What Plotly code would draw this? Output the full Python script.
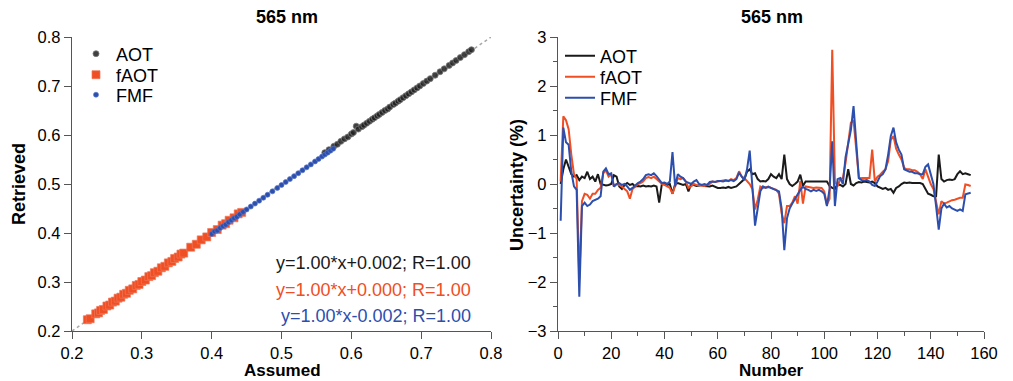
import plotly.graph_objects as go

# ---------------- Left panel data (Assumed vs Retrieved) ----------------
aot_assumed = [0.562, 0.568, 0.575, 0.58, 0.585, 0.59, 0.595, 0.60, 0.603, 0.607,
               0.61, 0.615, 0.618, 0.622, 0.626, 0.63, 0.633, 0.637, 0.64, 0.644,
               0.648, 0.652, 0.655, 0.66, 0.663, 0.667, 0.67, 0.674, 0.678, 0.682,
               0.686, 0.69, 0.694, 0.698, 0.703, 0.708, 0.713, 0.72, 0.727, 0.733,
               0.74, 0.745, 0.75, 0.756, 0.762, 0.768, 0.772]
aot_retrieved = [0.564, 0.570, 0.577, 0.581, 0.587, 0.592, 0.596, 0.602, 0.605, 0.618,
                 0.612, 0.617, 0.620, 0.624, 0.628, 0.632, 0.635, 0.639, 0.642, 0.646,
                 0.650, 0.653, 0.657, 0.662, 0.665, 0.669, 0.672, 0.676, 0.680, 0.684,
                 0.688, 0.692, 0.696, 0.700, 0.705, 0.710, 0.715, 0.722, 0.729, 0.735,
                 0.742, 0.747, 0.752, 0.758, 0.764, 0.770, 0.774]

faot_assumed = [0.222, 0.226, 0.234, 0.238, 0.241, 0.245, 0.25, 0.254, 0.258, 0.262,
                0.266, 0.27, 0.274, 0.278, 0.282, 0.287, 0.292, 0.296, 0.30, 0.305,
                0.31, 0.314, 0.318, 0.323, 0.328, 0.333, 0.338, 0.343, 0.347, 0.352,
                0.356, 0.36, 0.37, 0.378, 0.385, 0.393, 0.40, 0.408, 0.415, 0.42,
                0.425, 0.432, 0.438, 0.443]
faot_retrieved = [0.223, 0.225, 0.235, 0.237, 0.242, 0.244, 0.251, 0.253, 0.259, 0.261,
                  0.267, 0.269, 0.275, 0.277, 0.283, 0.286, 0.293, 0.295, 0.301, 0.304,
                  0.311, 0.313, 0.319, 0.322, 0.329, 0.332, 0.339, 0.342, 0.348, 0.351,
                  0.357, 0.359, 0.371, 0.377, 0.386, 0.392, 0.401, 0.407, 0.416, 0.419,
                  0.426, 0.431, 0.439, 0.442]

fmf_assumed = [0.40, 0.404, 0.408, 0.412, 0.416, 0.42, 0.424, 0.428, 0.432, 0.436,
               0.44, 0.445, 0.45, 0.456, 0.462, 0.468, 0.474, 0.48, 0.487, 0.494,
               0.50, 0.506, 0.512, 0.518, 0.524, 0.53, 0.536, 0.542, 0.548, 0.553,
               0.558, 0.562, 0.566, 0.57, 0.574]
fmf_retrieved = [0.398, 0.403, 0.405, 0.410, 0.414, 0.417, 0.422, 0.426, 0.430, 0.433,
                 0.438, 0.443, 0.448, 0.454, 0.460, 0.466, 0.472, 0.478, 0.485, 0.492,
                 0.498, 0.504, 0.510, 0.516, 0.522, 0.528, 0.534, 0.540, 0.546, 0.551,
                 0.556, 0.560, 0.564, 0.568, 0.572]

one_to_one = [0.2, 0.8]

fit_labels = ["y=1.00*x+0.002; R=1.00",
              "y=1.00*x+0.000; R=1.00",
              "y=1.00*x-0.002; R=1.00"]

# ---------------- Right panel data (Uncertainty vs Number) ----------------
number = list(range(1, 156))

unc_aot = [0.0, 0.3, 0.5, 0.35, 0.2, 0.15, 0.18, 0.08, 0.15, 0.12,
           0.25, 0.1, 0.15, 0.05, 0.2, 0.0, -0.02, -0.03, -0.02, 0.0,
           0.18, 0.15, -0.05, -0.1, -0.02, 0.02, -0.02, 0.0, -0.05, -0.04,
           -0.05, -0.03, -0.05, -0.04, -0.05, -0.03, -0.05, -0.38, 0.0, 0.0,
           -0.02, 0.0, -0.2, 0.0, 0.02, 0.0, -0.02, 0.0, -0.15, 0.0,
           -0.02, -0.04, -0.03, -0.02, -0.04, -0.05, -0.05, -0.03, -0.06, -0.08,
           -0.08, -0.07, -0.08, -0.06, -0.08, -0.07, -0.05, 0.0, 0.05, 0.1,
           0.25, 0.3, 0.2, 0.22, 0.1, 0.05, 0.06, 0.05, 0.1, 0.2,
           0.15, 0.12, 0.2, 0.1, 0.6, 0.1, 0.0, -0.04, 0.0, 0.05,
           0.19, -0.04, 0.05, 0.05, 0.06, 0.05, 0.06, 0.05, 0.05, 0.06,
           0.05, -0.04, -0.08, -0.1, 0.0, -0.02, -0.05, 0.0, 0.3, 0.0,
           -0.03, 0.02, 0.04, 0.03, 0.05, 0.04, 0.03, 0.05, 0.02, -0.05,
           -0.08, -0.1, -0.08, -0.12, -0.1, -0.18, -0.08, -0.05, 0.0, 0.03,
           0.02, 0.03, 0.02, 0.02, 0.02, 0.02, 0.0, -0.1, -0.2, -0.22,
           -0.25, -0.25, 0.6, 0.1, 0.05, 0.08, 0.09, 0.08, 0.1, 0.2,
           0.26, 0.2, 0.22, 0.2, 0.18]

unc_faot = [0.05, 1.38, 1.3, 1.12, 0.6, 0.2, 0.1, -1.95, -0.35, -0.2,
            -0.22, -0.3, -0.2, -0.2, -0.12, -0.08, 0.22, 0.28, 0.15, 0.2,
            -0.05, 0.0, -0.02, -0.05, -0.1, -0.15, -0.3, -0.1, -0.05, 0.0,
            0.02, 0.05, 0.12, 0.14, 0.12, 0.15, 0.1, 0.05, 0.0, -0.02,
            -0.05, -0.08, -0.2, -0.05, 0.12, 0.1, 0.12, 0.05, -0.08, -0.05,
            0.0, -0.02, -0.03, -0.04, -0.04, -0.02, 0.0, 0.05, 0.04, 0.05,
            0.06, 0.07, 0.08, 0.06, 0.1, 0.08, 0.12, 0.26, 0.15, 0.12,
            0.05, 0.0, -0.1, -0.52, -0.32, -0.05, -0.08, -0.06, -0.05, -0.08,
            -0.1, -0.12, -0.2, -0.6, -0.8, -0.45, -0.45, -0.38, -0.25, -0.4,
            0.06, -0.4, -0.05, -0.06, -0.08, -0.08, -0.07, -0.08, -0.08, -0.15,
            -0.42, -0.3, 2.74, 0.05, -0.05, 0.1, 0.12, 0.43, 0.9, 1.25,
            1.3, 0.77, 0.13, 0.12, 0.12, 0.11, 0.12, 0.7, 0.05, 0.15,
            0.19, 0.25, 0.3, 0.47, 0.9, 0.98, 0.72, 0.6, 0.5, 0.33,
            0.3, 0.3, 0.28, 0.28, 0.25, 0.2, 0.1, 0.3, 0.15, 0.0,
            -0.1, -0.38, -0.62, -0.35, -0.4, -0.38, -0.35, -0.33, -0.32, -0.3,
            -0.28, -0.28, -0.01, -0.02, -0.04]

unc_fmf = [-0.75, 1.15, 0.85, 0.8, 0.25, -0.05, -0.12, -2.3, -0.45, -0.38,
           -0.45, -0.42, -0.35, -0.32, -0.3, -0.25, 0.25, 0.32, 0.2, 0.22,
           -0.05, 0.0, 0.02, -0.02, 0.0, -0.05, -0.12, -0.08, -0.02, 0.02,
           0.05, 0.1, 0.18, 0.2, 0.18, 0.22, 0.16, 0.1, 0.02, 0.03,
           0.0, 0.05, 0.65, -0.05, 0.2, 0.15, 0.12, 0.05, 0.02, 0.0,
           0.05, 0.08, 0.0, -0.02, 0.0, -0.02, 0.04, 0.05, 0.04, 0.06,
           0.06, 0.05, 0.07, 0.06, 0.08, 0.06, 0.1, 0.23, 0.15, 0.08,
           0.3, 0.68, -0.05, -0.85, -0.5, -0.15, -0.05, -0.08, -0.06, -0.08,
           -0.1, -0.12, -0.15, -0.5, -1.35, -0.7, -0.5, -0.4, -0.3, -0.2,
           -0.12, -0.06, -0.1, -0.12, -0.15, -0.12, -0.14, -0.12, -0.15, -0.2,
           -0.45, -0.1, 0.87, -0.45, 0.1, 0.12, 0.0, 0.55, 0.8, 1.1,
           1.59, 0.9, 0.12, 0.08, 0.07, 0.08, 0.05, -0.02, -0.04, 0.05,
           0.16, 0.2, 0.3, 0.6, 0.98, 1.15, 0.85, 0.7, 0.6, 0.3,
           0.27, 0.25, 0.25, 0.22, 0.22, 0.2, 0.2, 0.35, 0.4, 0.2,
           0.0, -0.45, -0.93, -0.5, -0.4, -0.48, -0.45, -0.5, -0.52, -0.55,
           -0.52, -0.55, -0.21, -0.2, -0.18]

# ---------------- Styling ----------------
OFF = 8                      # page body margin of the browser
W, H = 1013 - OFF, 381 - OFF
BLACK = "#1a1a1a"
ORANGE = "#F04E23"
BLUE = "#2C4FAE"
AXIS = "#555555"
FONT = "Liberation Sans, Arial, Helvetica, sans-serif"

def px_x(p):
    return (p - OFF) / W

def px_y(p):
    return 1 - (p - OFF) / H

fig = go.Figure()

# Left panel
fig.add_trace(go.Scatter(x=one_to_one, y=one_to_one, mode="lines",
                         line=dict(color="#a8a8a8", width=1.5, dash="dot"),
                         showlegend=False, xaxis="x", yaxis="y", hoverinfo="skip"))
left_specs = [(aot_assumed, aot_retrieved, "AOT", "legend",
               dict(symbol="circle", size=6, color="rgba(30,30,30,0.85)",
                    line=dict(color="rgba(120,120,120,0.8)", width=1))),
              (faot_assumed, faot_retrieved, "fAOT", "legend3",
               dict(symbol="square", size=8, color=ORANGE,
                    line=dict(color="rgba(240,120,90,0.7)", width=1))),
              (fmf_assumed, fmf_retrieved, "FMF", "legend4",
               dict(symbol="circle", size=5, color=BLUE,
                    line=dict(color="rgba(90,120,200,0.7)", width=1)))]
for xs, ys, name, leg, mk in left_specs:
    fig.add_trace(go.Scatter(x=xs, y=ys, mode="markers", name=name, marker=mk,
                             xaxis="x", yaxis="y", legend=leg))

# Right panel
for vals, name, col, leg in [(unc_aot, "AOT", BLACK, "legend2"),
                             (unc_faot, "fAOT", ORANGE, "legend5"),
                             (unc_fmf, "FMF", BLUE, "legend6")]:
    fig.add_trace(go.Scatter(x=number, y=vals, mode="lines", name=name,
                             line=dict(color=col, width=2),
                             xaxis="x2", yaxis="y2", legend=leg))

axis_common = dict(showline=True, linecolor=AXIS, linewidth=1.3, ticks="outside",
                   ticklen=7, tickwidth=1.3, tickcolor=AXIS, showgrid=False,
                   zeroline=False, tickfont=dict(family=FONT, size=16.5, color="black"),
                   mirror=False, automargin=False)

ydom = [px_y(331), px_y(37)]

def leg(xp, yp):
    return dict(x=px_x(xp), y=px_y(yp), xanchor="left", yanchor="middle",
                bgcolor="rgba(0,0,0,0)", borderwidth=0,
                font=dict(family=FONT, size=18, color="black"),
                itemwidth=30, tracegroupgap=0)

fig.update_layout(
    width=W, height=H,
    margin=dict(l=0, r=0, t=0, b=0),
    paper_bgcolor="white", plot_bgcolor="white",
    font=dict(family=FONT, color="black"),
    xaxis=dict(domain=[px_x(72), px_x(491)], range=[0.2, 0.8], dtick=0.1,
               tickformat=".1f", anchor="y", **axis_common),
    yaxis=dict(domain=ydom, range=[0.2, 0.8], dtick=0.1, tickformat=".1f",
               anchor="x", **axis_common),
    xaxis2=dict(domain=[px_x(558), px_x(984)], range=[0, 160], dtick=20, anchor="y2",
                minor=dict(dtick=10, ticks="outside", ticklen=4, tickcolor=AXIS, tickwidth=1.3),
                **axis_common),
    yaxis2=dict(domain=ydom, range=[-3, 3], dtick=1, anchor="x2",
                minor=dict(dtick=0.5, ticks="outside", ticklen=4, tickcolor=AXIS, tickwidth=1.3),
                **axis_common),
    legend=leg(76, 54), legend3=leg(76, 75), legend4=leg(76, 95),
    legend2=leg(560, 56), legend5=leg(560, 77), legend6=leg(560, 98),
)

annotations = [
    dict(text="<b>565 nm</b>", x=px_x(287), y=px_y(17), size=18),
    dict(text="<b>565 nm</b>", x=px_x(772), y=px_y(17), size=18),
    dict(text="<b>Assumed</b>", x=px_x(282), y=px_y(370.5), size=17),
    dict(text="<b>Number</b>", x=px_x(771), y=px_y(370.5), size=17),
    dict(text="<b>Retrieved</b>", x=px_x(19), y=px_y(184), size=18, textangle=-90),
    dict(text="<b>Uncertainty (%)</b>", x=px_x(517), y=px_y(185), size=18, textangle=-90),
]
for a in annotations:
    size = a.pop("size")
    fig.add_annotation(xref="paper", yref="paper", showarrow=False,
                       xanchor="center", yanchor="middle",
                       font=dict(family=FONT, size=size, color="black"), **a)

for label, col, yy in zip(fit_labels, [BLACK, ORANGE, BLUE], [263, 290, 316]):
    fig.add_annotation(xref="paper", yref="paper", showarrow=False,
                       x=px_x(473), y=px_y(yy), xanchor="right", yanchor="middle",
                       text=label, font=dict(family=FONT, size=18, color=col))

fig.write_html("out.html")
